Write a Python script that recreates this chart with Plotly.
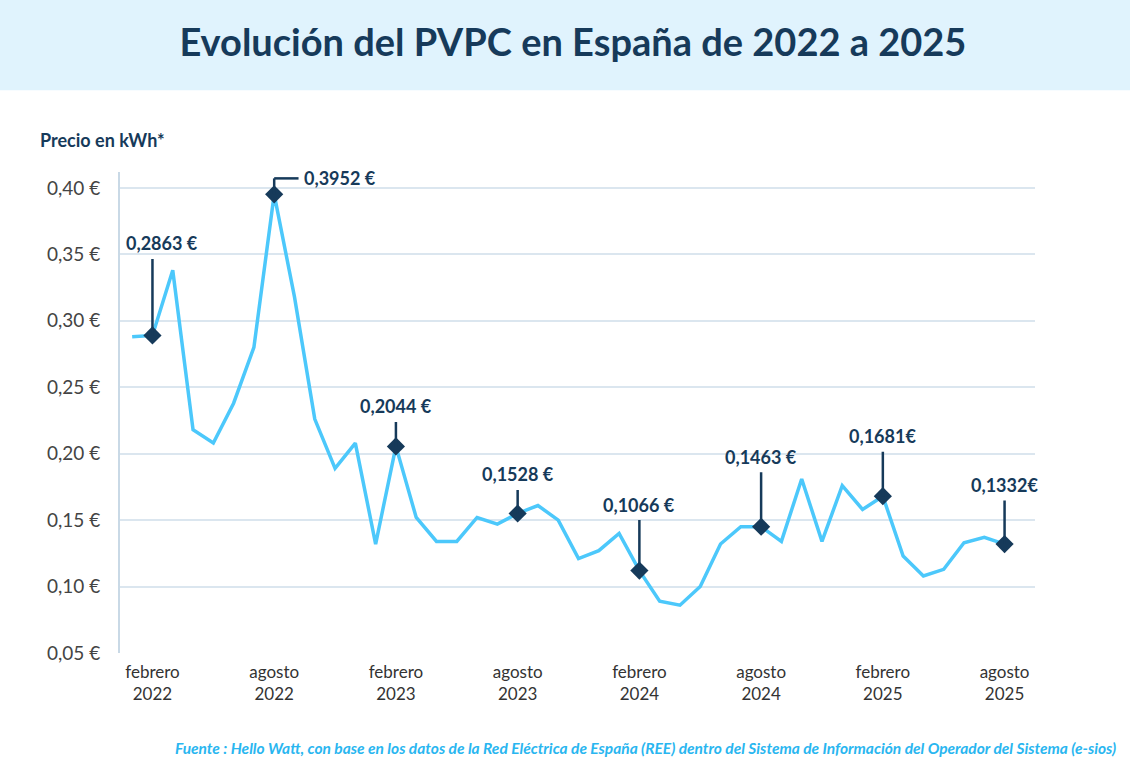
import plotly.graph_objects as go

months = list(range(44))
prices = [0.288, 0.289, 0.338, 0.218, 0.208, 0.238, 0.280, 0.3952, 0.318, 0.226,
          0.189, 0.208, 0.132, 0.2055, 0.152, 0.134, 0.134, 0.152, 0.147, 0.155,
          0.161, 0.150, 0.121, 0.127, 0.140, 0.112, 0.089, 0.086, 0.100, 0.132,
          0.145, 0.145, 0.134, 0.181, 0.134, 0.176, 0.158, 0.168, 0.123, 0.108,
          0.113, 0.133, 0.137, 0.132]
tick_vals = [1, 7, 13, 19, 25, 31, 37, 43]
tick_text = ["febrero<br>2022", "agosto<br>2022", "febrero<br>2023", "agosto<br>2023",
             "febrero<br>2024", "agosto<br>2024", "febrero<br>2025", "agosto<br>2025"]
mark_idx = [1, 7, 13, 19, 25, 31, 37, 43]
mark_labels = ["0,2863 €", "0,3952 €", "0,2044 €", "0,1528 €", "0,1066 €", "0,1463 €", "0,1681€", "0,1332€"]
label_offsets = [-78, 0, -26, -25, -52, -56, -46, -45]

DARK = "#163a5a"
fig = go.Figure()
fig.add_trace(go.Scatter(x=months, y=prices, mode="lines",
                         line=dict(color="#4cc8fb", width=3.5), hoverinfo="skip"))
fig.add_trace(go.Scatter(x=mark_idx, y=[prices[i] for i in mark_idx], mode="markers",
                         marker=dict(symbol="diamond", size=14, color=DARK), hoverinfo="skip"))

for i, lab, off in zip(mark_idx, mark_labels, label_offsets):
    y = prices[i]
    if off == 0:
        fig.add_shape(type="line", xref="x", yref="y", x0=i, x1=i, y0=y, y1=y + 0.012,
                      line=dict(color=DARK, width=2.5))
        fig.add_shape(type="line", xref="x", yref="y", x0=i, x1=i + 1.2, y0=y + 0.012, y1=y + 0.012,
                      line=dict(color=DARK, width=2.5))
        fig.add_annotation(x=i + 1.35, y=y + 0.012, text="<b>" + lab + "</b>", showarrow=False,
                           xanchor="left", font=dict(size=18, color=DARK, family="Lato"))
    else:
        fig.add_annotation(x=i, y=y, ax=0, ay=off, text="", showarrow=True, arrowhead=0,
                           arrowwidth=2.5, arrowcolor=DARK, standoff=0)
        fig.add_annotation(x=i, y=y, ax=10 if i == 1 else 0, ay=off - 14, axref="pixel", ayref="pixel",
                           text="<b>" + lab + "</b>", showarrow=True, arrowwidth=0.1,
                           arrowcolor="rgba(0,0,0,0)", xanchor="center",
                           font=dict(size=18, color=DARK, family="Lato"))

fig.add_shape(type="rect", xref="paper", yref="paper", x0=-0.5, x1=1.5, y0=1.17, y1=1.7,
              fillcolor="#e0f3fd", line=dict(width=0), layer="below")
fig.add_annotation(xref="paper", yref="paper", x=0.0, y=1.0, yshift=45, xshift=-82, xanchor="left",
                   text="<b>Precio en kWh*</b>", showarrow=False,
                   font=dict(size=18, color=DARK, family="Lato"))

fig.update_layout(
    width=1130, height=770,
    margin=dict(l=120, r=95, t=172, b=117),
    paper_bgcolor="white", plot_bgcolor="white",
    showlegend=False,
    title=dict(text="<b>Evolución del PVPC en España de 2022 a 2025</b>", x=0.495, xref="paper",
               y=0.945, yanchor="middle", xanchor="center",
               font=dict(size=38, color=DARK, family="Lato")),
    font=dict(family="Lato", color="#333"),
    xaxis=dict(range=[-0.6, 44.5], tickvals=tick_vals, ticktext=tick_text, showgrid=False,
               zeroline=False, showline=False, ticklabelstandoff=7,
               tickfont=dict(size=17, color="#333")),
    yaxis=dict(range=[0.05, 0.412], tickvals=[0.05, 0.10, 0.15, 0.20, 0.25, 0.30, 0.35, 0.40],
               ticktext=["0,05 €", "0,10 €", "0,15 €", "0,20 €", "0,25 €", "0,30 €", "0,35 €", "0,40 €"],
               gridcolor="#dbe6ef", gridwidth=1.5, zeroline=False, showline=True,
               linecolor="#c9d9e6", linewidth=2, ticks="", ticklabelstandoff=14,
               tickfont=dict(size=19, color="#444")),
)
fig.add_annotation(xref="paper", yref="paper", x=1.0, xshift=83, y=-0.2, yshift=12, yanchor="top", xanchor="right",
                   text="<i><b>Fuente : Hello Watt, con base en los datos de la Red Eléctrica de España (REE) dentro del Sistema de Información del Operador del Sistema (e-sios)</b></i>",
                   showarrow=False, font=dict(size=15.5, color="#29b6f0", family="Lato"))
fig.write_html("out.html", config={"displayModeBar": False})
with open("out.html", encoding="utf-8") as f:
    html = f.read()
html = html.replace("<body>", '<body style="margin:0;overflow:hidden">', 1)
with open("out.html", "w", encoding="utf-8") as f:
    f.write(html)
